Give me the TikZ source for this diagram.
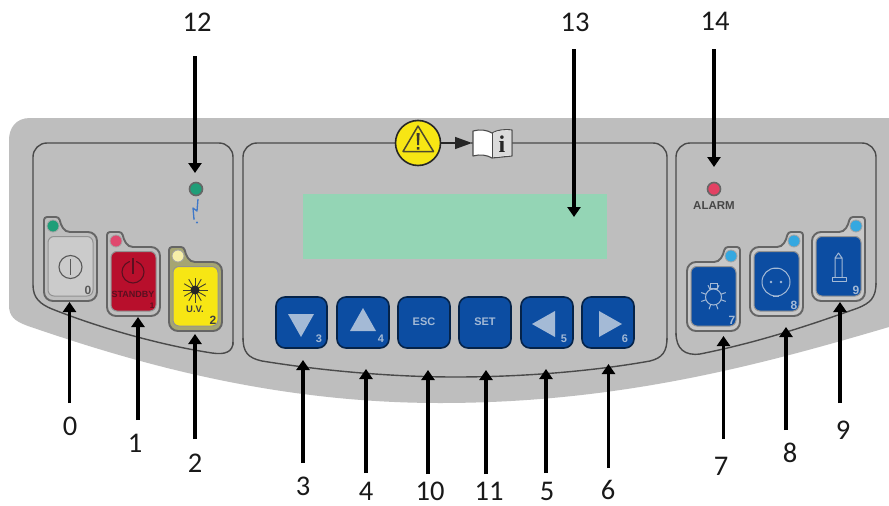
\documentclass[tikz,border=0pt]{standalone}
\usepackage{fontspec}
\setmainfont{Carlito}
\newfontfamily\pan{Liberation Sans}
\newfontfamily\panserif{Liberation Serif}
\usetikzlibrary{arrows.meta}
\definecolor{panel}{HTML}{BEBEBE}
\definecolor{frame}{HTML}{4A4A4A}
\definecolor{btnblue}{HTML}{0C4DA2}
\definecolor{icon}{HTML}{A4BAD6}
\definecolor{lcd}{HTML}{94D5B5}
\definecolor{ledg}{HTML}{1F9E78}
\definecolor{ledb}{HTML}{35A8E0}
\definecolor{ledp}{HTML}{E0486E}
\definecolor{ledy}{HTML}{F6EFA8}
\definecolor{crim}{HTML}{B80F2C}
\definecolor{dkcrim}{HTML}{5A1020}
\definecolor{ylw}{HTML}{F7E614}
\definecolor{bolt}{HTML}{3F78C8}
\tikzset{
 x=1pt,y=-1pt,
 lab/.style={font=\fontsize{28.5}{28.5}\selectfont,text=black!90,inner sep=0pt},
 arr/.style={line width=3.4pt,black,-{Triangle[length=10pt,width=13pt]}},
 fr/.style={draw=frame,line width=1.4pt},
 key/.style={fill=btnblue,draw=black!55!btnblue,line width=1.6pt,rounded corners=9pt},
 keytxt/.style={font=\pan\bfseries\fontsize{11}{11}\selectfont,text=icon,inner sep=0pt},
 num/.style={font=\pan\bfseries\fontsize{11}{11}\selectfont,inner sep=0pt},
 ic/.style={draw=icon,line width=1pt},
 led/.style={circle,minimum size=12pt,inner sep=0pt,draw=frame!50,line width=.8pt},
}
% x, y of body top-left, type, led colour, face colour, gap colour, led name
\newcommand{\btn}[7]{%
 \begin{scope}[shift={(#1,#2)}]
 \ifnum#3=1
  \draw[fill=#6,draw=frame!85,line width=1.9pt,rounded corners=3pt]
   (0,-6) -- (0,-15) -- (15,-15) .. controls (17,-6) and (20,0) .. (29,0) [rounded corners=9pt] -- (53,0) -- (53,69) -- (0,69) [rounded corners=3pt] -- cycle;
  \node[led,fill=#4] (#7) at (9,-6) {};
 \else
  \draw[fill=#6,draw=frame!85,line width=1.9pt,rounded corners=3pt]
   (53,-6) -- (53,-15) -- (38,-15) .. controls (36,-6) and (33,0) .. (24,0) [rounded corners=9pt] -- (0,0) -- (0,69) -- (53,69) [rounded corners=3pt] -- cycle;
  \node[led,fill=#4] (#7) at (44,-6) {};
 \fi
 \draw[fill=#5,draw=frame!60,line width=1pt,rounded corners=6pt] (4,4.5) rectangle (49,64);
 \end{scope}}
\begin{document}
\begin{tikzpicture}
\useasboundingbox (0,0) rectangle (889,506);
\fill[white] (0,0) rectangle (889,506);
% panel
\fill[panel] (889,118) -- (30,118) .. controls (16,118) and (9,128) .. (9,140) -- (9,305)
 .. controls (9,316) and (14,321) .. (28,326) .. controls (130,361) and (270,403) .. (440,403)
 .. controls (620,403) and (760,365) .. (889,327) -- cycle;
% frames
\draw[fr,rounded corners=14pt] (233,345) -- (233,143) -- (33,143) -- (33,285);
\draw[fr] (33,285) .. controls (33,298) and (40,304) .. (52,309) .. controls (100,328) and (160,345) .. (212,353) .. controls (225,355) and (233,352) .. (233,342);
\draw[fr,rounded corners=14pt] (243,340) -- (243,143) -- (667,143) -- (667,340);
\draw[fr] (243,338) .. controls (243,352) and (248,358) .. (262,361) .. controls (330,372) and (400,377) .. (455,377) .. controls (530,377) and (600,370) .. (650,361) .. controls (662,358) and (667,352) .. (667,338);
\draw[fr,rounded corners=14pt] (876,285) -- (876,143) -- (676,143) -- (676,335);
\draw[fr] (676,333) .. controls (676,349) and (685,356) .. (700,354) .. controls (760,342) and (810,325) .. (858,308) .. controls (870,303) and (876,298) .. (876,283);
% warning and book
\fill[panel] (445,140) rectangle (471,146);
\node[circle,draw=black!85,line width=1.6pt,fill=ylw,minimum size=45pt,inner sep=0pt] (warn) at (418,143) {};
\draw[line width=1.5pt,draw=black!60!olive,line join=round] (418,126) -- (403,151.5) -- (433.5,151.5) -- cycle;
\fill[black!75!olive] (416.6,133) -- (419.6,133) -- (419,145) -- (417.2,145) -- cycle (416.8,147) rectangle (419.4,149.5);
\coordinate (bookw) at (472,143);
\draw[black!85,line width=1.4pt,-{Triangle[length=17pt,width=12pt]}] (warn) -- (bookw);
\draw[fill=white,draw=frame,line width=1.1pt,line join=round] (473,131) .. controls (480,129) and (487,130) .. (492,133) .. controls (497,130) and (504,129) .. (512,130) -- (512,156) -- (492,158) .. controls (487,155) and (480,154) .. (473,156) -- cycle;
\fill[panel!55!white] (493,133) .. controls (498,130.5) and (504,130) .. (511,131) -- (511,155) -- (493,157) -- cycle;
\draw[frame,line width=.7pt] (492,133) -- (492,158);
\node[inner sep=0pt,font=\panserif\bfseries\fontsize{24}{24}\selectfont,text=black!85] (info) at (502,144) {i};
% LCD
\fill[lcd] (303,194) rectangle (607,259);
% centre keys
\draw[key] (276,297) rectangle (327,348);
\fill[icon] (288,314) -- (314,314) -- (301,337) -- cycle;
\node[num,text=icon] (k3) at (319,339) {3};
\draw[key] (337,297) rectangle (389,348);
\fill[icon] (350,331) -- (376,331) -- (363,308) -- cycle;
\node[num,text=icon] (k4) at (381,339) {4};
\draw[key] (398,297) rectangle (450,348);
\node[keytxt] (kesc) at (424,322) {ESC};
\draw[key] (459,297) rectangle (511,348);
\node[keytxt] (kset) at (485,322) {SET};
\draw[key] (521,297) rectangle (573,348);
\fill[icon] (532,324) -- (555,311) -- (555,337) -- cycle;
\node[num,text=icon] (k5) at (564,339) {5};
\draw[key] (582,297) rectangle (634,348);
\fill[icon] (622,324) -- (599,311) -- (599,337) -- cycle;
\node[num,text=icon] (k6) at (625,339) {6};
% left buttons
\btn{44}{232}{1}{ledg}{panel!80!white}{panel}{ledzero}
\btn{107}{247}{1}{ledp}{crim}{panel}{ledone}
\btn{169}{262}{1}{ledy}{ylw}{panel!60!olive}{ledtwo}
\draw[black!65,line width=1.1pt] (70.5,267) circle (11.5pt);
\draw[black!65,line width=1.6pt] (70.5,259) -- (70.5,275);
\node[num,text=black!65,font=\pan\bfseries\fontsize{12}{12}\selectfont] (n0) at (88,290) {0};
\draw[dkcrim,line width=1.1pt] (133,272) circle (11pt);
\fill[crim] (130,258) rectangle (136,268);
\draw[dkcrim,line width=1.3pt] (133,258) -- (133,274);
\node[num,text=dkcrim,font=\pan\bfseries\fontsize{9}{9}\selectfont] (nsb) at (133,294) {STANDBY};
\node[num,text=dkcrim,font=\pan\bfseries\fontsize{8}{8}\selectfont] (n1) at (152,306) {1};
\foreach \a in {0,30,...,330} \draw[black!70!olive,line width=.9pt] (195,290) -- ++(\a:12.5pt);
\fill[black!85] (195,290) circle (4.5pt);
\node[num,text=black!75,font=\pan\bfseries\fontsize{9.5}{9.5}\selectfont] (nuv) at (195,309) {U.V.};
\node[num,text=black!75,font=\pan\bfseries\fontsize{12}{12}\selectfont] (n2) at (213,320) {2};
% right buttons
\btn{687}{262}{2}{ledb}{btnblue}{panel!85!white}{ledseven}
\btn{750}{247}{2}{ledb}{btnblue}{panel!85!white}{ledeight}
\btn{812}{232}{2}{ledb}{btnblue}{panel!85!white}{lednine}
\draw[ic] (713.5,297) circle (8pt);
\draw[ic] (710,283.5) rectangle (717,288.5);
\foreach \a in {20,65,115,160,200,250,290,340} \draw[ic] (713.5,297) ++(\a:8pt) -- ++(\a:5pt);
\node[num,text=icon,font=\pan\bfseries\fontsize{12}{12}\selectfont] (n7) at (732,320) {7};
\draw[ic] (776,282) circle (14pt);
\fill[icon] (771,282) circle (1.4pt) (781,282) circle (1.4pt);
\draw[ic] (773,268) -- (779,268) (773,296) -- (779,296);
\node[num,text=icon,font=\pan\bfseries\fontsize{12}{12}\selectfont] (n8) at (794,305) {8};
\draw[ic,line join=round] (835,277) -- (835,258) -- (838.5,253) -- (842,258) -- (842,277) (835,258) -- (842,258);
\draw[ic,line join=round] (832,277) rectangle (846,281);
\node[num,text=icon,font=\pan\bfseries\fontsize{12}{12}\selectfont] (n9) at (856,290) {9};
% status LEDs
\node[circle,fill=ledg,draw=black!60,line width=1.6pt,minimum size=13pt,inner sep=0pt] (ledtwelve) at (196,189) {};
\draw[bolt,line width=1.3pt,line join=round] (198,199) -- (197,211) -- (193,208) -- (194,219);
\fill[bolt] (197,222.5) circle (1.2pt) (194,219) circle (.8pt);
\node[circle,fill=ledp!90!red,draw=black!60,line width=1.6pt,minimum size=13pt,inner sep=0pt] (ledalarm) at (714,189) {};
\node[inner sep=0pt,font=\pan\bfseries\fontsize{11.5}{11.5}\selectfont,text=black!72] (alarm) at (714,206) {ALARM};
% arrow ends and labels
\foreach \n/\lx/\ly/\tx/\ty/\hx/\hy in {
 0/70/426/69.5/403/69.5/302, 1/135/443/138/420/138/317, 2/195/463/195/439/195/334,
 3/303/486/303/463/303/360, 4/366/491/366/473/366/369, 10/430/491/428/474/428/370,
 11/489/491/486/474/486/370, 5/547/491/546/473/546/369, 6/608/490/608.5/468/608.5/364,
 7/721/466/723.5/439/723.5/336, 8/790/453/786/430/786/327, 9/843/430/840/403/840/302,
 12/197/22/195/56/195/173, 13/575/22/574/49/574/217, 14/715/21/714/49/714/167}{
 \node[lab] (lab\n) at (\lx,\ly) {\n};
 \coordinate (tail\n) at (\tx,\ty);
 \coordinate (head\n) at (\hx,\hy);
 \draw[arr] (tail\n) -- (head\n);
}
\end{tikzpicture}
\end{document}
